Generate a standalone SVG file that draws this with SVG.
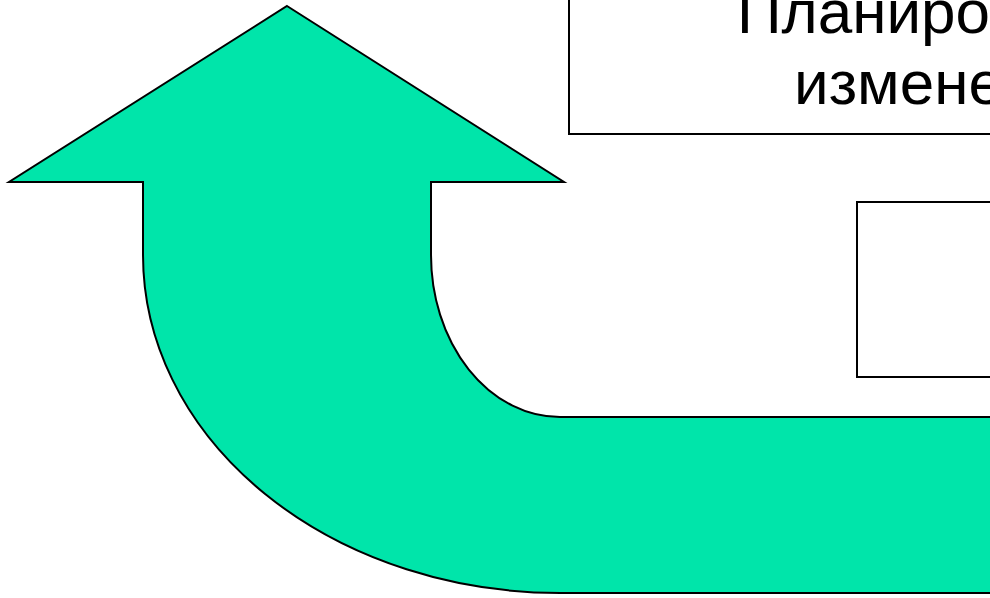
<svg xmlns="http://www.w3.org/2000/svg" width="990" height="598" viewBox="0 0 990 598">
<style>
.box{fill:#fff;stroke:#000;stroke-width:2}
.arrow{fill:#00E5AA;stroke:#000;stroke-width:2;stroke-linejoin:miter}
.t{font-family:"Liberation Sans",Arial,sans-serif;font-size:62px;fill:#000}
</style>
<rect width="990" height="598" fill="#fff"/>
<g id="connectors">
<path class="arrow" d="M 287 6 L 564 182 L 431 182 L 431 255 A 129 162 0 0 0 560 417 L 1000 417 L 1000 593 L 560 593 A 417 338 0 0 1 143 255 L 143 182 L 9 182 Z"/>
</g>
<g id="node-plan">
<rect class="box" x="569" y="-10" width="500" height="144"/>
<text class="t" x="737" y="33">Планиро</text>
<text class="t" x="794" y="104">измене</text>
</g>
<g id="node-box2">
<rect class="box" x="857" y="202" width="200" height="175"/>
</g>
</svg>
